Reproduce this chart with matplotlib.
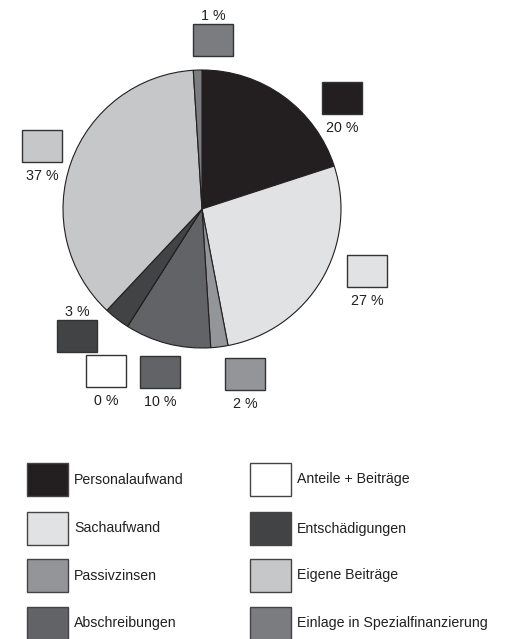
import matplotlib
matplotlib.use("Agg")
import matplotlib.pyplot as plt
from matplotlib.patches import Rectangle

plt.rcParams['font.family'] = ['Liberation Sans', 'DejaVu Sans']

# Expense categories and their shares (percent), clockwise from 12 o'clock
categories = [
    "Personalaufwand",
    "Sachaufwand",
    "Passivzinsen",
    "Abschreibungen",
    "Anteile + Beiträge",
    "Entschädigungen",
    "Eigene Beiträge",
    "Einlage in Spezialfinanzierung",
]
shares = [20, 27, 2, 10, 0, 3, 37, 1]
colors = ["#231f20", "#e1e2e3", "#939598", "#626366",
          "#ffffff", "#414345", "#c6c7c9", "#7b7c80"]

# Legend order (two columns)
legend_left = ["Personalaufwand", "Sachaufwand", "Passivzinsen", "Abschreibungen"]
legend_right = ["Anteile + Beiträge", "Entschädigungen", "Eigene Beiträge",
                "Einlage in Spezialfinanzierung"]

W, H = 514, 639
fig = plt.figure(figsize=(W / 100, H / 100), dpi=100)
ax = fig.add_axes([0, 0, 1, 1])

TEXT = "#231f20"
EDGE = "#231f20"

# Pie in pixel coordinates (y axis points down)
cx, cy, r = 202, 209, 139
ax.pie(shares, colors=colors, startangle=-90, counterclock=True,
       center=(cx, cy), radius=r,
       wedgeprops=dict(edgecolor=EDGE, linewidth=0.8))

ax.set_xlim(0, W)
ax.set_ylim(H, 0)
ax.set_aspect('auto')
ax.axis('off')

# Value boxes: (left, top) of each swatch and whether the label sits above
box_w, box_h = 40, 32
box_layout = [
    (322, 82, False),   # Personalaufwand
    (347, 255, False),  # Sachaufwand
    (225, 358, False),  # Passivzinsen
    (140, 356, False),  # Abschreibungen
    (86, 355, False),   # Anteile + Beiträge
    (57, 320, True),    # Entschädigungen
    (22, 130, False),   # Eigene Beiträge
    (193, 24, True),    # Einlage in Spezialfinanzierung
]

for val, col, (x0, y0, above) in zip(shares, colors, box_layout):
    ax.add_patch(Rectangle((x0, y0), box_w, box_h, facecolor=col,
                           edgecolor="#333333", linewidth=1.0))
    tx = x0 + box_w / 2
    if above:
        ax.text(tx, y0 - 1, f"{val} %", ha="center", va="bottom",
                fontsize=10.3, color=TEXT)
    else:
        ax.text(tx, y0 + box_h + 7, f"{val} %", ha="center", va="top",
                fontsize=10.3, color=TEXT)

# Legend
color_of = dict(zip(categories, colors))
row_y = [463, 512, 559, 607]
leg_w, leg_h = 41, 33
for col_x, names in ((27, legend_left), (250, legend_right)):
    for name, y0 in zip(names, row_y):
        ax.add_patch(Rectangle((col_x, y0), leg_w, leg_h,
                               facecolor=color_of[name],
                               edgecolor="#444444", linewidth=1.0))
        ax.text(col_x + leg_w + 6, y0 + leg_h / 2, name, ha="left",
                va="center", fontsize=10.2, color=TEXT)

fig.savefig("out.png", dpi=100, facecolor="white")
